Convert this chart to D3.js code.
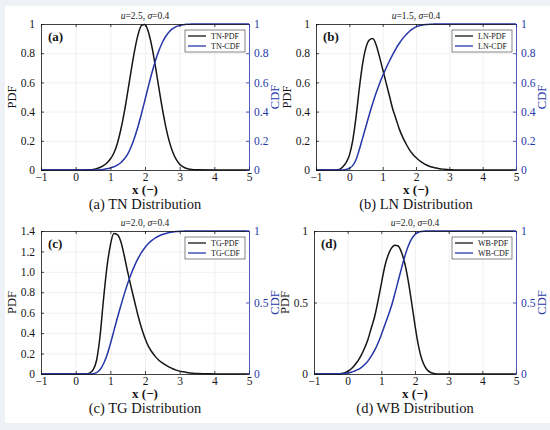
<!DOCTYPE html>
<html>
<head>
<meta charset="utf-8">
<script src="https://cdn.jsdelivr.net/npm/d3@7"></script>
<style>
  body { margin: 0; background: #eef1f5; }
  svg text { font-family: "Liberation Serif", "Times New Roman", serif; }
</style>
</head>
<body>
<div id="root"></div>
<script>
// x grid shared by all curves
var xs = [-1, -0.5, -0.4, -0.3, -0.2, -0.1,
  0, 0.1, 0.2, 0.3, 0.4, 0.5, 0.6, 0.7, 0.8, 0.9,
  1, 1.1, 1.2, 1.3, 1.4, 1.5, 1.6, 1.7, 1.8, 1.9,
  2, 2.1, 2.2, 2.3, 2.4, 2.5, 2.6, 2.7, 2.8, 2.9,
  3, 3.1, 3.2, 3.3, 3.4, 3.5,
  4, 4.5, 5];

// (a) TN
var tnPdf = [0, 0, 0, 0, 0, 0,
  0, 0, 0, 0.001, 0.002, 0.004, 0.009, 0.017, 0.03, 0.048,
  0.075, 0.115, 0.18, 0.274, 0.393, 0.533, 0.68, 0.818, 0.927, 0.99,
  0.997, 0.943, 0.843, 0.709, 0.562, 0.42, 0.296, 0.196, 0.123, 0.072,
  0.04, 0.021, 0.01, 0.005, 0.002, 0.001,
  0, 0, 0];
var tnCdf = [0, 0, 0, 0, 0, 0,
  0, 0, 0, 0, 0, 0, 0.0005, 0.002, 0.004, 0.008,
  0.014, 0.022, 0.034, 0.05, 0.075, 0.108, 0.159, 0.223, 0.3, 0.387,
  0.481, 0.575, 0.666, 0.748, 0.817, 0.873, 0.916, 0.947, 0.968, 0.982,
  0.99, 0.995, 0.998, 0.999, 1, 1,
  1, 1, 1];

// (b) LN
var lnPdf = [0, 0, 0, 0.003, 0.02, 0.05,
  0.1, 0.2, 0.36, 0.56, 0.73, 0.84, 0.89, 0.9, 0.86, 0.78,
  0.69, 0.6, 0.51, 0.42, 0.35, 0.28, 0.225, 0.18, 0.14, 0.11,
  0.085, 0.065, 0.049, 0.036, 0.026, 0.019, 0.013, 0.009, 0.006, 0.004,
  0.002, 0.001, 0, 0, 0, 0,
  0, 0, 0];
var lnCdf = [0, 0, 0, 0, 0, 0.003,
  0.012, 0.03, 0.07, 0.14, 0.22, 0.3, 0.38, 0.455, 0.525, 0.588,
  0.645, 0.697, 0.745, 0.79, 0.832, 0.868, 0.9, 0.927, 0.949, 0.966,
  0.98, 0.988, 0.993, 0.996, 0.998, 0.999, 1, 1, 1, 1,
  1, 1, 1, 1, 1, 1,
  1, 1, 1];

// (c) TG
var tgPdf = [0, 0, 0, 0, 0, 0,
  0, 0, 0, 0, 0.008, 0.04, 0.13, 0.36, 0.72, 1.04,
  1.26, 1.375, 1.365, 1.3, 1.16, 1.0, 0.85, 0.71, 0.57, 0.45,
  0.35, 0.27, 0.215, 0.17, 0.135, 0.108, 0.086, 0.067, 0.051, 0.038,
  0.028, 0.021, 0.015, 0.01, 0.007, 0.004,
  0.001, 0, 0];
var tgCdf = [0, 0, 0, 0, 0, 0,
  0, 0, 0, 0, 0, 0.002, 0.01, 0.03, 0.07, 0.13,
  0.21, 0.3, 0.39, 0.475, 0.557, 0.633, 0.7, 0.758, 0.808, 0.85,
  0.885, 0.912, 0.934, 0.952, 0.965, 0.975, 0.983, 0.989, 0.993, 0.996,
  0.998, 0.999, 1, 1, 1, 1,
  1, 1, 1];

// (d) WB
var wbPdf = [0, 0, 0, 0, 0.003, 0.008,
  0.02, 0.035, 0.06, 0.09, 0.13, 0.18, 0.24, 0.32, 0.4, 0.51,
  0.63, 0.75, 0.83, 0.88, 0.9, 0.895, 0.85, 0.77, 0.65, 0.5,
  0.34, 0.2, 0.105, 0.05, 0.02, 0.007, 0.002, 0, 0, 0,
  0, 0, 0, 0, 0, 0,
  0, 0, 0];
var wbCdf = [0, 0, 0, 0.001, 0.002, 0.004,
  0.007, 0.012, 0.02, 0.03, 0.045, 0.065, 0.09, 0.125, 0.165, 0.215,
  0.275, 0.34, 0.405, 0.475, 0.56, 0.65, 0.74, 0.825, 0.895, 0.945,
  0.976, 0.991, 0.997, 1, 1, 1, 1, 1, 1, 1,
  1, 1, 1, 1, 1, 1,
  1, 1, 1];

// ticks
var xTicks = [-1, 0, 1, 2, 3, 4, 5];
var xTickLabels = ["\u22121", "0", "1", "2", "3", "4", "5"];
var fifthTicks = [0, 0.2, 0.4, 0.6, 0.8, 1];
var fifthLabels = ["0", "0.2", "0.4", "0.6", "0.8", "1"];
var tgTicks = [0, 0.2, 0.4, 0.6, 0.8, 1.0, 1.2, 1.4];
var tgLabels = ["0", "0.2", "0.4", "0.6", "0.8", "1.0", "1.2", "1.4"];
var halfTicks = [0, 0.5, 1];
var halfLabels = ["0", "0.5", "1"];

var names = ["TN", "LN", "TG", "WB"];
var letters = ["(a)", "(b)", "(c)", "(d)"];
var muValues = ["2.5", "1.5", "2.0", "2.0"];
var sigmaValue = "0.4";
var captions = ["(a) TN Distribution", "(b) LN Distribution", "(c) TG Distribution", "(d) WB Distribution"];

var black = "#151515", blue = "#2436a8";

var svg = d3.select("#root")
  .append("svg")
  .attr("width", 550)
  .attr("height", 430);

svg.append("rect")
  .attr("x", 5).attr("y", 6)
  .attr("width", 545).attr("height", 417)
  .attr("fill", "#ffffff");

var panels = [
  {left: 41, top: 24, width: 208, height: 146, pdf: tnPdf, cdf: tnCdf, pdfMax: 1,
   pdfTicks: fifthTicks, pdfLabels: fifthLabels, cdfTicks: fifthTicks, cdfLabels: fifthLabels},
  {left: 316, top: 24, width: 200, height: 146, pdf: lnPdf, cdf: lnCdf, pdfMax: 1,
   pdfTicks: fifthTicks, pdfLabels: fifthLabels, cdfTicks: fifthTicks, cdfLabels: fifthLabels},
  {left: 41, top: 231, width: 208, height: 143, pdf: tgPdf, cdf: tgCdf, pdfMax: 1.4,
   pdfTicks: tgTicks, pdfLabels: tgLabels, cdfTicks: halfTicks, cdfLabels: halfLabels},
  {left: 314, top: 231, width: 202, height: 143, pdf: wbPdf, cdf: wbCdf, pdfMax: 1,
   pdfTicks: halfTicks, pdfLabels: halfLabels, cdfTicks: halfTicks, cdfLabels: halfLabels}
];

panels.forEach(function (p, i) { drawPanel(p, i); });

function styleAxis(ax, color, size) {
  ax.attr("font-family", "Liberation Serif").attr("font-size", size);
  ax.selectAll("path, line").attr("stroke", color).attr("stroke-width", 0.8);
  ax.selectAll("text").attr("fill", color);
}

function drawPanel(p, i) {
  var w = p.width, h = p.height;
  var g = svg.append("g")
    .attr("transform", "translate(" + p.left + "," + p.top + ")");

  var x = d3.scaleLinear().domain([-1, 5]).range([0, w]);
  var y = d3.scaleLinear().domain([0, p.pdfMax]).range([h, 0]);
  var y2 = d3.scaleLinear().domain([0, 1]).range([h, 0]);

  // grid
  var gx = g.append("g")
    .attr("transform", "translate(0," + h + ")")
    .call(d3.axisBottom(x).tickValues(xTicks).tickSize(-h).tickFormat(""));
  var gy = g.append("g")
    .call(d3.axisLeft(y).tickValues(p.pdfTicks).tickSize(-w).tickFormat(""));
  [gx, gy].forEach(function (gr) {
    gr.select(".domain").remove();
    gr.selectAll("line").attr("stroke", "#e6e6e6").attr("stroke-width", 0.6);
  });

  // curves
  var pdfLine = d3.line()
    .x(function (d, k) { return x(xs[k]); })
    .y(function (d) { return y(d); })
    .curve(d3.curveMonotoneX);
  var cdfLine = d3.line()
    .x(function (d, k) { return x(xs[k]); })
    .y(function (d) { return y2(d); })
    .curve(d3.curveMonotoneX);

  g.append("path").datum(p.pdf)
    .attr("d", pdfLine)
    .attr("fill", "none").attr("stroke", black).attr("stroke-width", 1.5);
  g.append("path").datum(p.cdf)
    .attr("d", cdfLine)
    .attr("fill", "none").attr("stroke", blue).attr("stroke-width", 1.5);

  // axes
  var bottom = g.append("g")
    .attr("transform", "translate(0," + h + ")")
    .call(d3.axisBottom(x).tickValues(xTicks)
      .tickFormat(function (d, k) { return xTickLabels[k]; })
      .tickSize(-3).tickSizeOuter(0).tickPadding(3));
  styleAxis(bottom, black, 11.5);

  var top = g.append("g")
    .call(d3.axisTop(x).tickValues(xTicks).tickSize(-3).tickSizeOuter(0).tickFormat(""));
  styleAxis(top, black, 11.5);

  var left = g.append("g")
    .call(d3.axisLeft(y).tickValues(p.pdfTicks)
      .tickFormat(function (d, k) { return p.pdfLabels[k]; })
      .tickSize(-3).tickSizeOuter(0).tickPadding(6));
  styleAxis(left, black, 11.5);

  var right = g.append("g")
    .attr("transform", "translate(" + w + ",0)")
    .call(d3.axisRight(y2).tickValues(p.cdfTicks)
      .tickFormat(function (d, k) { return p.cdfLabels[k]; })
      .tickSize(-3).tickSizeOuter(0).tickPadding(5));
  styleAxis(right, blue, 11.5);

  // axis titles
  g.append("text")
    .attr("transform", "translate(-29," + (h / 2) + ") rotate(-90)")
    .attr("text-anchor", "middle").attr("dominant-baseline", "central")
    .attr("font-size", 12.5).attr("fill", black)
    .text("PDF");
  g.append("text")
    .attr("transform", "translate(" + (w + 26) + "," + (h / 2) + ") rotate(-90)")
    .attr("text-anchor", "middle").attr("dominant-baseline", "central")
    .attr("font-size", 12.5).attr("fill", blue)
    .text("CDF");
  g.append("text")
    .attr("x", w / 2).attr("y", h + 24)
    .attr("text-anchor", "middle")
    .attr("font-size", 13).attr("font-weight", "bold").attr("fill", black)
    .text("x (\u2212)");

  // title
  var t = g.append("text")
    .attr("x", w / 2).attr("y", -5)
    .attr("text-anchor", "middle")
    .attr("font-size", 9.5).attr("fill", "#222");
  t.append("tspan").attr("font-style", "italic").text("u");
  t.append("tspan").text("=" + muValues[i] + ", ");
  t.append("tspan").attr("font-style", "italic").text("\u03c3");
  t.append("tspan").text("=" + sigmaValue);

  // panel letter
  g.append("text")
    .attr("x", 7).attr("y", 17)
    .attr("font-size", 13).attr("font-weight", "bold").attr("fill", black)
    .text(letters[i]);

  // legend
  var lw = 60, lh = 22;
  var lg = g.append("g").attr("transform", "translate(" + (w - 4 - lw) + ",6)");
  lg.append("rect")
    .attr("width", lw).attr("height", lh)
    .attr("fill", "#fff").attr("stroke", "#333").attr("stroke-width", 0.6);
  [[names[i] + "-PDF", black], [names[i] + "-CDF", blue]].forEach(function (e, k) {
    var yy = 6 + k * 10;
    lg.append("line")
      .attr("x1", 3).attr("x2", 21).attr("y1", yy).attr("y2", yy)
      .attr("stroke", e[1]).attr("stroke-width", 1.3);
    lg.append("text")
      .attr("x", 26).attr("y", yy)
      .attr("dominant-baseline", "central")
      .attr("font-size", 8).attr("fill", black)
      .text(e[0]);
  });

  // caption
  g.append("text")
    .attr("x", w / 2).attr("y", h + 39)
    .attr("text-anchor", "middle")
    .attr("font-size", 14.5).attr("fill", black)
    .text(captions[i]);
}
</script>
</body>
</html>
